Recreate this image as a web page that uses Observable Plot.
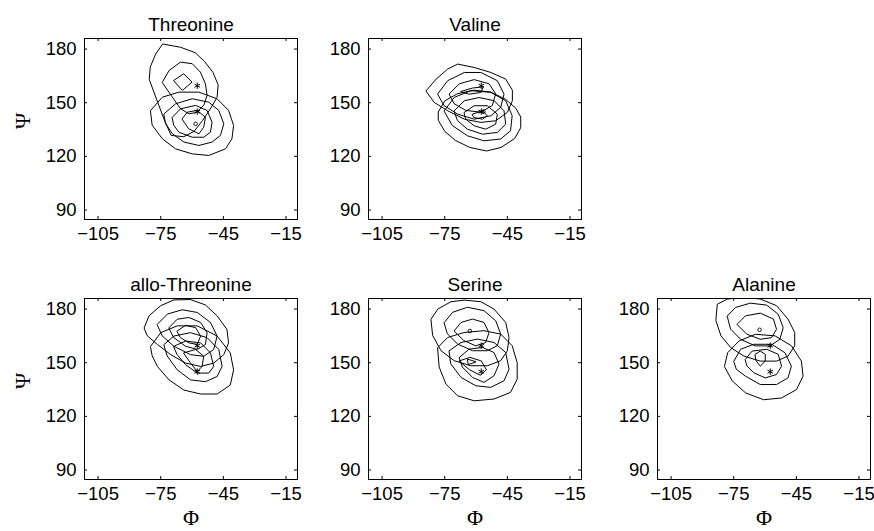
<!DOCTYPE html>
<html><head><meta charset="utf-8">
<script src="https://cdn.jsdelivr.net/npm/d3@7"></script>
<script src="https://cdn.jsdelivr.net/npm/@observablehq/plot@0.6"></script>
<style>
body{margin:0;background:#fff;}
#chart{position:relative;width:874px;height:531px;overflow:hidden;background:#fff;}
.panel{position:absolute;}
</style></head><body><div id="chart"></div>
<script>
// ---- axis definitions ----
const phiTicks = [-105, -75, -45, -15];
const psiTicks = [90, 120, 150, 180];
const phiDomain = [-111.5, -9.5];
const psiDomain = [84.7, 185.9];
const panelTitles = ["Threonine", "Valine", "allo-Threonine", "Serine", "Alanine"];
const xLabel = "Φ";
const yLabel = "Ψ";

// reference (Φ, Ψ) points drawn as asterisks in every panel
const refStars = [[-57.5, 159.5], [-57.5, 145]];

// ---- contour polygons, [Φ, Ψ] vertices ----
const threonineContours = [
  [[-73.9,182.8],[-65.5,181],[-58.5,178],[-54,173],[-50,167],[-47.5,160],[-48,153],[-51,147],[-55,140],[-59,134],[-64,131],[-70,131.7],[-73.5,141],[-77,152],[-80.5,163],[-80,170],[-77.5,177]],
  [[-74.2,161.5],[-71,168],[-65.5,172.7],[-59.9,171.8],[-56,167.1],[-53.6,160.6],[-52.8,154.1],[-54.4,148.5],[-58,144.5],[-61.5,143.8],[-65.5,146.6],[-69.4,153.1]],
  [[-68.7,162.5],[-64,166.2],[-60,161.5],[-64.5,157]],
  [[-79.8,145.7],[-74.2,153.1],[-66.3,155.9],[-56.7,155.9],[-48,152.2],[-42.5,145.7],[-40.1,137.3],[-40.9,129.8],[-44,124.2],[-52,120.5],[-59.9,121.4],[-67.9,124.2],[-74.2,129.8],[-79,137.3]],
  [[-73.4,143.8],[-67.9,149.4],[-59.9,152.2],[-52,150.3],[-47.2,145.7],[-44.8,138.2],[-46.4,131.7],[-50.4,128],[-56.7,126.1],[-63.9,128],[-69.4,132.6],[-72.6,138.2]],
  [[-69.4,141.9],[-65.5,146.6],[-58.3,148.5],[-52.8,145.7],[-50.4,139.1],[-51.2,133.5],[-54.4,130.7],[-59.9,130.7],[-66.3,133.5],[-68.7,137.3]],
  [[-64.7,141],[-62.3,144.7],[-57.5,145.7],[-53.6,141.9],[-54.4,136.3],[-56.7,132.6],[-61.5,135.4]]
];
const threonineMaxima = [[-58.3, 138.2]];

const valineContours = [
  [[-83.9,156.7],[-79.1,163.2],[-73.6,168.8],[-68.8,171.6],[-60.9,169.7],[-52.9,166.9],[-45.8,163.2],[-42.6,157],[-42.6,151.1],[-45,144.6],[-50.6,139.9],[-57.7,139],[-65.6,140.8],[-73.6,145.5],[-79.9,150.1]],
  [[-78.3,155],[-73.6,162.3],[-65.6,166.9],[-57.7,166.9],[-49.8,162.3],[-46.6,154.8],[-48.2,147.4],[-52.9,142.7],[-60.9,140.8],[-68.8,143.6],[-75.2,148.3]],
  [[-72.8,155],[-68,160.6],[-60.9,162.9],[-53.8,160.6],[-50.6,155],[-52.2,148.5],[-57.7,144.7],[-64.9,145.7],[-70.4,149.4]],
  [[-67.2,156.3],[-61.7,158.2],[-56.5,158.9],[-57.7,155.7],[-63.3,154.8]],
  [[-78,145],[-75,151],[-69,155],[-61,157],[-53,156],[-46,152],[-41,147],[-38.6,142],[-38.6,136],[-41.5,130],[-48,125],[-55,123],[-63,125],[-70,129],[-75,134],[-78,140]],
  [[-75.2,145.5],[-70.4,153],[-62.5,156.7],[-53,155.8],[-45.8,151.1],[-42.7,142.7],[-43.5,134.3],[-48.2,129.7],[-56.2,128.7],[-64.1,131.5],[-71.2,137.1]],
  [[-70.4,145.5],[-65.6,151.1],[-58.5,152.9],[-51.3,151.1],[-46.6,145.5],[-45.8,138],[-49.8,133.4],[-56.9,132.4],[-64.1,135.2],[-68.8,139.9]],
  [[-65.6,144.6],[-60.9,148.3],[-54.6,148.3],[-49.8,143.6],[-50.6,138],[-55.4,135.2],[-60.9,137.1],[-64.9,140.8]],
  [[-61.7,143.6],[-56.9,145.5],[-54.6,142.7],[-56.9,140.8],[-60.9,141.7]]
];
const valineMaxima = [[-56.5, 145]];

const alloThreonineContours = [
  [[-82.9,169.6],[-80.6,176.2],[-75,181.9],[-68.7,185.1],[-60.7,185.3],[-53.6,182.3],[-48,176.2],[-43.3,168.7],[-42.5,161.1],[-44.8,154.5],[-49.6,149.8],[-55.9,147.9],[-63.1,149.8],[-70.2,154.5],[-76.6,160.2],[-81.3,164.9]],
  [[-76.6,171.5],[-71.8,177.2],[-64.7,179.6],[-57.5,178.1],[-51.2,172.5],[-48,164.9],[-49.6,157.4],[-54.4,153.6],[-60.7,154.5],[-68.7,159.2],[-74.2,164.9]],
  [[-71,169.6],[-67.1,174.3],[-61.5,175.3],[-55.9,172.5],[-52.8,166.8],[-53.6,160.2],[-57.5,157.4],[-63.1,159.2],[-68.7,164]],
  [[-67.1,167.7],[-63.1,170.9],[-58.3,169.6],[-55.9,164.9],[-57.5,160.2],[-61.5,161.1],[-65.5,164]],
  [[-79.8,159.2],[-75,166.8],[-67.1,170.6],[-57.5,170.6],[-48,164.9],[-41.7,155.5],[-40.1,146],[-41.7,137.5],[-48,132.5],[-55.9,132.5],[-63.9,134.7],[-71,140.4],[-76.6,147.9],[-79,153.6]],
  [[-73.4,160.2],[-68.7,164.9],[-60.7,166.8],[-52.8,164],[-47.2,157.4],[-45.6,147.9],[-48,142.3],[-53.6,139.4],[-60.7,140.4],[-67.1,146],[-71.8,153.6]],
  [[-68.7,159.2],[-63.1,162.1],[-55.9,161.1],[-51.2,155.5],[-49.6,147.9],[-52,144.2],[-57.5,144.2],[-63.1,148.9],[-67.1,154.5]],
  [[-63.9,155.5],[-58.3,157.4],[-54.4,153.6],[-55.2,147.9],[-57.5,145.1],[-60.7,149.8]]
];
const alloThreonineMaxima = [];

const serineContours = [
  [[-81.5,174.4],[-78.3,180],[-72,184.1],[-65.7,185],[-57.7,184.1],[-51.4,180],[-45.8,172.5],[-44.2,164.1],[-45,156.7],[-48.2,151.1],[-54.6,148.3],[-62.5,148.3],[-70.4,151.1],[-76.8,156.7],[-80.7,165.1]],
  [[-75.2,172.5],[-71.2,178.2],[-64.1,181],[-56.2,179.1],[-50.6,173.5],[-48.2,166],[-49.8,159.5],[-54.6,156.7],[-61.7,156.7],[-68.8,160.4],[-73.6,166]],
  [[-70.4,167.9],[-67.2,172.5],[-61.7,174.4],[-56.2,172.5],[-53.8,166.8],[-55.4,161.3],[-60.1,159.4],[-65.7,162.3]],
  [[-78.3,158.5],[-73.6,164.1],[-65.7,166.9],[-56.2,167.9],[-48.2,166],[-42.7,159.5],[-40.3,150.1],[-40.3,140.8],[-43.5,133.4],[-51.4,129.7],[-60.9,128.7],[-68.8,131.5],[-74.4,138],[-77.6,147.4]],
  [[-72.8,156.7],[-67.2,161.3],[-59.3,163.2],[-51.4,161.3],[-45.8,155.7],[-44.2,146.4],[-46.6,139.9],[-53,136.2],[-60.1,137.1],[-67.2,141.8],[-72,149.2]],
  [[-68,152.9],[-63.3,157.6],[-56.9,158.5],[-51.4,155.7],[-49,149.2],[-51.4,142.7],[-56.2,139],[-61.7,141.8],[-66.4,147.4]],
  [[-68,151],[-63,153],[-57.5,151],[-55,146],[-58,143],[-63,146]],
  [[-64,152],[-60,150.5],[-63.5,149]]
];
const serineMaxima = [[-63, 167.7]];

const alanineContours = [
  [[-82.7,182.8],[-78,185.6],[-70.1,186.6],[-62.3,185.6],[-54.5,181.9],[-49,174.4],[-45.8,166.9],[-45.8,159.4],[-49,153.7],[-54.5,150.9],[-62.3,150.9],[-70.1,153.7],[-76.4,158.4],[-81.1,165],[-83.5,173.4]],
  [[-78,176.2],[-74.1,180.9],[-67,183.3],[-59.2,182.2],[-53.7,177.1],[-51.3,169.6],[-52.9,163.1],[-57.6,159.4],[-64.7,159.4],[-71.7,163.1],[-76.4,168.7]],
  [[-73.3,171.6],[-69.4,176.2],[-62.3,177.7],[-56,174.4],[-54.5,168.7],[-56.9,164],[-62.3,163.1],[-68.6,165.9]],
  [[-79.4,148.1],[-77.9,155.6],[-72.4,162.2],[-64.6,165.9],[-55.2,165],[-47.3,159.4],[-42.6,150.9],[-41.8,142.5],[-44.9,135],[-52.1,130.3],[-60.7,129.3],[-69.3,133.1],[-75.6,139.7]],
  [[-74.9,150.9],[-71.7,157.5],[-65.4,160.3],[-56.8,160.3],[-50.5,155.6],[-47.4,148.1],[-49,141.5],[-54.5,137.8],[-62.3,137.8],[-69.4,142.5],[-73.6,146.2]],
  [[-69.4,151.9],[-66.2,156.5],[-59.2,157.5],[-53.7,154.7],[-52.1,148.1],[-54.5,143.4],[-59.9,141.5],[-65.4,144.4],[-68.6,148.1]],
  [[-64.7,154.7],[-62.3,156.5],[-59.9,154.7],[-59.9,150.9],[-62.3,148.1],[-64.2,150.9]]
];
const alanineMaxima = [[-62.6, 168.4]];

// ---- layout ----
const FW = 213, FH = 181;          // frame size
const ML = 84, MR = 20, MT = 37, MB = 60;
const panels = [
  {title: panelTitles[0], contours: threonineContours, maxima: threonineMaxima, left: 84, top: 38, ylab: true, xlab: false},
  {title: panelTitles[1], contours: valineContours, maxima: valineMaxima, left: 368, top: 38, ylab: false, xlab: false},
  {title: panelTitles[2], contours: alloThreonineContours, maxima: alloThreonineMaxima, left: 84, top: 298, ylab: true, xlab: true},
  {title: panelTitles[3], contours: serineContours, maxima: serineMaxima, left: 368, top: 298, ylab: false, xlab: true},
  {title: panelTitles[4], contours: alanineContours, maxima: alanineMaxima, left: 657, top: 298, ylab: false, xlab: true}
];

const chart = document.getElementById("chart");
const sans = "'Liberation Sans', Arial, Helvetica, sans-serif";
const serif = "'Liberation Serif', 'DejaVu Serif', 'Times New Roman', serif";

for (const p of panels) {
  const rows = p.contours.flatMap((c, i) => c.map(([phi, psi]) => ({phi, psi, c: i})));
  const marks = [
    Plot.line(rows, {x: "phi", y: "psi", z: "c", curve: "linear-closed", stroke: "black", strokeWidth: 1, clip: true}),
    Plot.dot(refStars, {x: d => d[0], y: d => d[1], symbol: "asterisk", r: 3, stroke: "black", strokeWidth: 1}),
    Plot.dot(p.maxima, {x: d => d[0], y: d => d[1], symbol: "circle", r: 1.8, stroke: "black", strokeWidth: 0.9, fill: "none"}),
    Plot.frame({stroke: "black", strokeWidth: 1}),
    Plot.ruleX(phiTicks, {x: d => d, insetTop: FH - 3, stroke: "black"}),
    Plot.ruleX(phiTicks, {x: d => d, insetBottom: FH - 3, stroke: "black"}),
    Plot.ruleY(psiTicks, {y: d => d, insetRight: FW - 3, stroke: "black"}),
    Plot.ruleY(psiTicks, {y: d => d, insetLeft: FW - 3, stroke: "black"}),
    Plot.axisX({ticks: phiTicks, tickSize: 0, tickPadding: 7, label: null, fontSize: 18.5}),
    Plot.axisY({ticks: psiTicks, tickSize: 0, tickPadding: 8, label: null, fontSize: 18.5}),
    Plot.text([p.title], {frameAnchor: "top", dy: -7.5, lineAnchor: "bottom", fontSize: 19, fill: "black"})
  ];
  if (p.xlab) marks.push(Plot.text([xLabel], {frameAnchor: "bottom", dy: 45, fontSize: 22, fontFamily: serif, fill: "black"}));
  if (p.ylab) marks.push(Plot.text([yLabel], {frameAnchor: "left", dx: -62, rotate: -90, fontSize: 22, fontFamily: serif, fill: "black"}));

  const svg = Plot.plot({
    width: ML + FW + MR,
    height: MT + FH + MB,
    marginLeft: ML, marginRight: MR, marginTop: MT, marginBottom: MB,
    x: {domain: phiDomain, axis: null},
    y: {domain: psiDomain, axis: null},
    style: {background: "transparent", fontFamily: sans, fontSize: "18.5px", color: "black", overflow: "visible"},
    marks
  });
  svg.classList.add("panel");
  svg.style.left = (p.left - ML) + "px";
  svg.style.top = (p.top - MT) + "px";
  chart.appendChild(svg);
}
</script></body></html>
